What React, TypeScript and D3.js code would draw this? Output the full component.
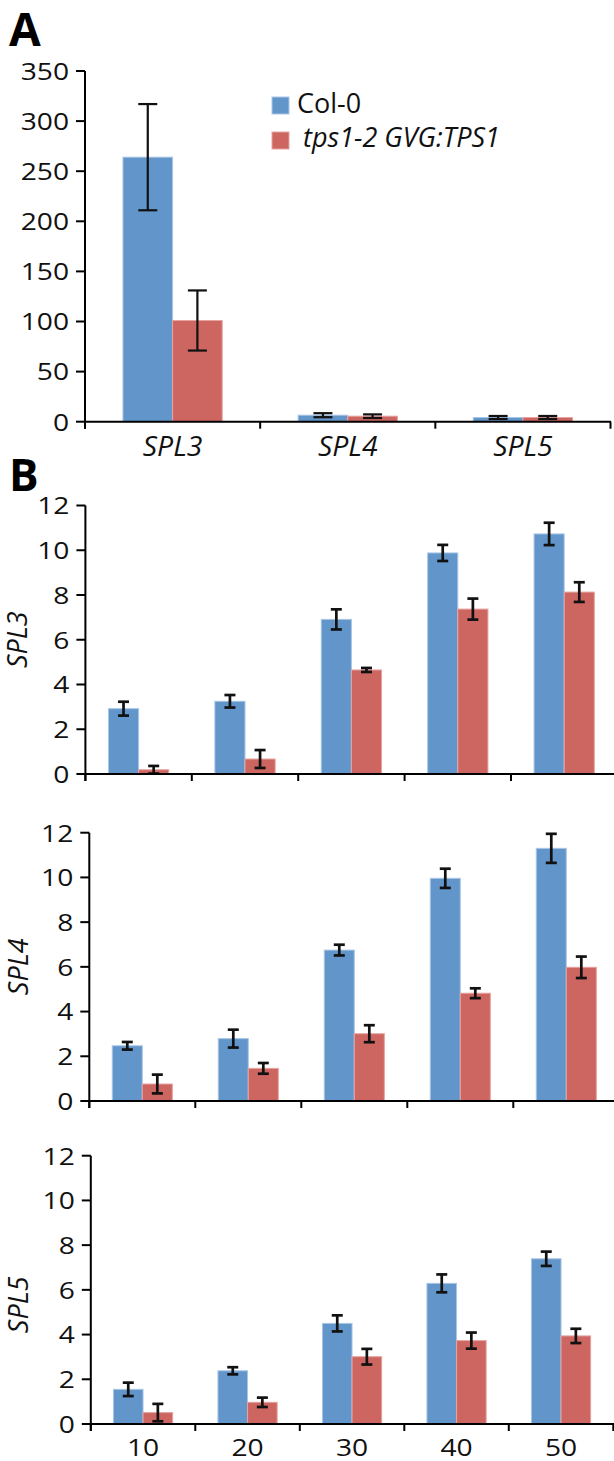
import React from 'react';
import * as d3 from 'd3';

// ---------- data ----------
const seriesNames = ['Col-0', 'tps1-2 GVG:TPS1'];
const seriesColors = ['#6296ca', '#cd6661'];
const seriesEdges = ['#a9c6e6', '#e6a3a0'];

const genesA = ['SPL3', 'SPL4', 'SPL5'];
const colA = [264, 6.5, 4.2];
const colAErr = [53, 2, 1.5];
const tpsA = [101, 5.5, 4.2];
const tpsAErr = [30, 1.8, 1.5];
const ticksA = [0, 50, 100, 150, 200, 250, 300, 350];

const days = ['10', '20', '30', '40', '50'];
const ticksB = [0, 2, 4, 6, 8, 10, 12];

const spl3Col = [2.92, 3.25, 6.91, 9.88, 10.73];
const spl3ColErr = [0.31, 0.28, 0.45, 0.36, 0.5];
const spl3Tps = [0.19, 0.67, 4.65, 7.37, 8.13];
const spl3TpsErr = [0.17, 0.4, 0.09, 0.47, 0.44];

const spl4Col = [2.47, 2.79, 6.75, 9.96, 11.3];
const spl4ColErr = [0.17, 0.4, 0.24, 0.43, 0.65];
const spl4Tps = [0.76, 1.46, 3.01, 4.82, 5.98];
const spl4TpsErr = [0.42, 0.24, 0.38, 0.22, 0.48];

const spl5Col = [1.55, 2.38, 4.5, 6.29, 7.39];
const spl5ColErr = [0.3, 0.16, 0.36, 0.4, 0.32];
const spl5Tps = [0.51, 0.97, 3.01, 3.73, 3.94];
const spl5TpsErr = [0.39, 0.21, 0.35, 0.36, 0.32];

const FONT = "'Open Sans', 'Noto Sans', sans-serif";
const SX = 1.15; // horizontal stretch of the reference's lettering

type PanelProps = {
  cats: string[];
  vals: number[][];
  errs: number[][];
  ticks: number[];
  yMax: number;
  x0: number;
  x1: number;
  yBottom: number;
  yTop: number;
  capW: number;
  errW: number;
  catLabels: boolean;
  catItalic: boolean;
  catSize: number;
  catBaseline: number;
  yLabel?: string;
  yLabelX?: number;
  yLabelDy?: number;
  axisEnd: number;
};

function Panel(p: PanelProps) {
  const x = d3.scaleBand<string>().domain(p.cats).range([p.x0, p.x1]).paddingInner(0).paddingOuter(0);
  const bw = x.bandwidth();
  const inner = d3.scaleBand<number>().domain([0, 1]).range([0, bw]).paddingInner(0).paddingOuter(0.765);
  const y = d3.scaleLinear().domain([0, p.yMax]).range([p.yBottom, p.yTop]);
  const boundaries = p.cats.map((c) => x(c) as number).concat([p.x1]);
  const yMid = (p.yBottom + p.yTop) / 2 + (p.yLabelDy || 0);
  return (
    <g>
      {/* bars */}
      {p.cats.map((c, i) =>
        [0, 1].map((s) => {
          const bx = (x(c) as number) + (inner(s) as number);
          const v = p.vals[s][i];
          return (
            <rect
              key={`b${i}-${s}`}
              x={bx}
              y={y(v)}
              width={inner.bandwidth()}
              height={y(0) - y(v)}
              fill={seriesColors[s]}
              stroke={seriesEdges[s]}
              strokeWidth={1}
            />
          );
        })
      )}
      {/* error bars */}
      {p.cats.map((c, i) =>
        [0, 1].map((s) => {
          const cx = (x(c) as number) + (inner(s) as number) + inner.bandwidth() / 2;
          const v = p.vals[s][i];
          const e = p.errs[s][i];
          const yt = y(v + e);
          const yb = y(Math.max(0, v - e));
          return (
            <g key={`e${i}-${s}`} stroke="#111" strokeWidth={p.errW}>
              <line x1={cx} x2={cx} y1={yt} y2={yb} />
              <line x1={cx - p.capW / 2} x2={cx + p.capW / 2} y1={yt} y2={yt} />
              <line x1={cx - p.capW / 2} x2={cx + p.capW / 2} y1={yb} y2={yb} />
            </g>
          );
        })
      )}
      {/* y axis */}
      <line x1={p.x0} x2={p.x0} y1={y(p.yMax)} y2={y(0) + 7} stroke="#000" strokeWidth={2} />
      {p.ticks.map((t) => (
        <g key={`yt${t}`}>
          <line x1={p.x0 - 9} x2={p.x0} y1={y(t)} y2={y(t)} stroke="#000" strokeWidth={2} />
          <text
            transform={`translate(${p.x0 - 16},${y(t)}) scale(${SX},1)`}
            dy="0.36em"
            textAnchor="end"
            fontFamily={FONT}
            fontSize={24.5}
            fill="#111"
          >
            {t}
          </text>
        </g>
      ))}
      {/* x axis */}
      <line x1={p.x0} x2={p.axisEnd} y1={y(0)} y2={y(0)} stroke="#000" strokeWidth={2} />
      {boundaries.map((bx, i) => (
        <line key={`xt${i}`} x1={bx} x2={bx} y1={y(0)} y2={y(0) + 7} stroke="#000" strokeWidth={2} />
      ))}
      {p.catLabels &&
        p.cats.map((c) => (
          <text
            key={`cl${c}`}
            transform={`translate(${(x(c) as number) + bw / 2},${p.catBaseline}) scale(${p.catItalic ? 1.05 : SX},1)`}
            textAnchor="middle"
            fontFamily={FONT}
            fontSize={p.catSize}
            fontStyle={p.catItalic ? 'italic' : 'normal'}
            fill="#111"
          >
            {c}
          </text>
        ))}
      {p.yLabel && (
        <text
          transform={`translate(${p.yLabelX},${yMid}) rotate(-90)`}
          textAnchor="middle"
          fontFamily={FONT}
          fontSize={27}
          fontStyle="italic"
          fill="#111"
        >
          {p.yLabel}
        </text>
      )}
    </g>
  );
}

export default function App() {
  return (
    <svg
      width={614}
      height={1461}
      style={{ position: 'absolute', left: 0, top: 0, background: '#fff' }}
    >
      <rect x={0} y={0} width={614} height={1461} fill="#fff" />
      {/* Panel letters */}
      <text x={9} y={46} fontFamily={FONT} fontWeight="bold" fontSize={46} fill="#000">A</text>
      <text x={9} y={491} fontFamily={FONT} fontWeight="bold" fontSize={44} fill="#000">B</text>

      {/* Panel A */}
      <Panel
        cats={genesA}
        vals={[colA, tpsA]}
        errs={[colAErr, tpsAErr]}
        ticks={ticksA}
        yMax={350}
        x0={85}
        x1={610.5}
        yBottom={421.7}
        yTop={71}
        capW={19}
        errW={2.2}
        catLabels={true}
        catItalic={true}
        catSize={27}
        catBaseline={456}
        axisEnd={611}
      />
      {/* legend */}
      {seriesNames.map((n, i) => (
        <g key={n}>
          <rect x={272} y={97 + i * 35} width={17} height={17} fill={seriesColors[i]} stroke={seriesEdges[i]} strokeWidth={1} />
          <text
            x={i === 0 ? 297 : 303}
            y={113 + i * 34}
            fontFamily={FONT}
            fontSize={27}
            fontStyle={i === 0 ? 'normal' : 'italic'}
            fill="#111"
          >
            {n}
          </text>
        </g>
      ))}

      {/* Panel B1: SPL3 */}
      <Panel
        cats={days}
        vals={[spl3Col, spl3Tps]}
        errs={[spl3ColErr, spl3TpsErr]}
        ticks={ticksB}
        yMax={12}
        x0={85.4}
        x1={85.4 + 5 * 106.4}
        yBottom={774}
        yTop={505.5}
        capW={11}
        errW={2.7}
        catLabels={false}
        catItalic={false}
        catSize={24}
        catBaseline={0}
        yLabel="SPL3"
        yLabelX={27}
        axisEnd={620}
      />
      {/* Panel B2: SPL4 */}
      <Panel
        cats={days}
        vals={[spl4Col, spl4Tps]}
        errs={[spl4ColErr, spl4TpsErr]}
        ticks={ticksB}
        yMax={12}
        x0={89.3}
        x1={89.3 + 5 * 106}
        yBottom={1101}
        yTop={832.7}
        capW={11}
        errW={2.7}
        catLabels={false}
        catItalic={false}
        catSize={24}
        catBaseline={0}
        yLabel="SPL4"
        yLabelX={28}
        axisEnd={620}
      />
      {/* Panel B3: SPL5 */}
      <Panel
        cats={days}
        vals={[spl5Col, spl5Tps]}
        errs={[spl5ColErr, spl5TpsErr]}
        ticks={ticksB}
        yMax={12}
        x0={90.8}
        x1={90.8 + 5 * 104.5}
        yBottom={1424}
        yTop={1155.7}
        capW={11}
        errW={2.7}
        catLabels={true}
        catItalic={false}
        catSize={24.5}
        catBaseline={1456}
        yLabel="SPL5"
        yLabelX={28}
        yLabelDy={15}
        axisEnd={620}
      />
    </svg>
  );
}
